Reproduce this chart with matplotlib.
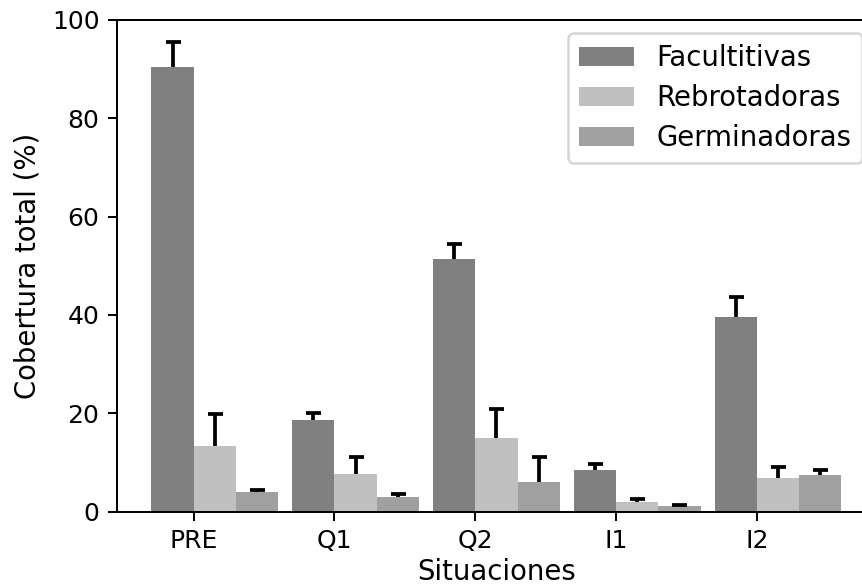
import numpy as np
import matplotlib.pyplot as plt

# Cobertura total por situación y tipo de regeneración
situaciones = ["PRE", "Q1", "Q2", "I1", "I2"]
facultitivas = [90.3, 18.6, 51.3, 8.5, 39.6]
facultitivas_err = [5.1, 1.5, 3.1, 1.3, 4.0]
rebrotadoras = [13.4, 7.8, 15.1, 2.1, 7.0]
rebrotadoras_err = [6.4, 3.4, 5.9, 0.5, 2.1]
germinadoras = [4.0, 3.1, 6.0, 1.2, 7.5]
germinadoras_err = [0.5, 0.6, 5.1, 0.3, 1.1]

x = np.arange(len(situaciones))
w = 0.3
ceros = np.zeros(len(situaciones))
ekw = dict(ecolor="black", elinewidth=1.5, capsize=3, capthick=1.5)

fig = plt.figure(figsize=(862 / 180, 586 / 180), dpi=180)
ax = fig.add_axes([0.1357, 0.1263, 0.8803, 0.8404])

series = [
    (facultitivas, facultitivas_err, "#808080", "Facultitivas", -w),
    (rebrotadoras, rebrotadoras_err, "#c0c0c0", "Rebrotadoras", 0),
    (germinadoras, germinadoras_err, "#a0a0a0", "Germinadoras", w),
]
for vals, err, col, nombre, dx in series:
    b = ax.bar(x + dx, vals, w, align="edge", color=col,
               yerr=[ceros, err], error_kw=ekw, label=nombre)
    # solo el lado superior de la barra de error
    b.errorbar.lines[1][0].set_visible(False)

ax.set_xticks(x)
ax.set_xticklabels(situaciones)
ax.set_ylim(0, 100)
ax.set_xlabel("Situaciones", fontsize=11, labelpad=2)
ax.set_ylabel("Cobertura total (%)", fontsize=11)
ax.legend(loc="upper right", fontsize=11, labelspacing=0.43)

fig.savefig("out.png", dpi=180)
